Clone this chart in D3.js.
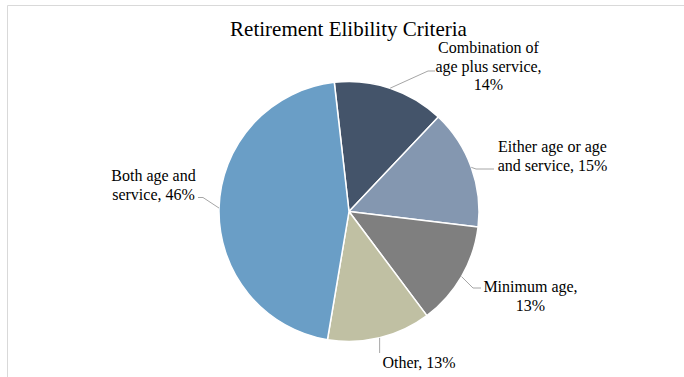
<!DOCTYPE html>
<html>
<head>
<meta charset="utf-8">
<script src="https://cdn.jsdelivr.net/npm/d3@7"></script>
<style>
  html, body { margin: 0; padding: 0; background: #fff; }
  svg { display: block; }
</style>
</head>
<body>
<svg id="chart" width="684" height="377"></svg>
<script>
// Retirement eligibility criteria, share of plans (%)
const categories = [
  "Combination of age plus service",
  "Either age or age and service",
  "Minimum age",
  "Other",
  "Both age and service"
];
const shares = [14, 15, 13, 13, 46];
const sliceColors = ["#44546a", "#8497b0", "#7f7f7f", "#c0c0a3", "#6a9ec6"];
// Label text, broken into lines as they are set beside the pie
const labelLines = [
  ["Combination of", "age plus service,", "14%"],
  ["Either age or age", "and service, 15%"],
  ["Minimum age,", "13%"],
  ["Other, 13%"],
  ["Both age and", "service, 46%"]
];
const titleText = "Retirement Elibility Criteria";

const W = 684, H = 377;
const cx = 349, cy = 211.5, R = 130;
const deg = Math.PI / 180;

const svg = d3.select("#chart");

// chart area frame (top and left edges visible)
svg.append("path")
  .attr("d", `M7.5,${H} V5.5 H${W}`)
  .attr("fill", "none")
  .attr("stroke", "#d9d9d9")
  .attr("stroke-width", 1);

svg.append("text")
  .attr("x", 348.5)
  .attr("y", 36)
  .attr("text-anchor", "middle")
  .attr("font-family", "'Liberation Serif', 'Times New Roman', serif")
  .attr("font-size", 21)
  .attr("fill", "#000")
  .text(titleText);

const pie = d3.pie()
  .value(d => d)
  .sort(null)
  .startAngle(-6.5 * deg)
  .endAngle(353.5 * deg);

const arcs = pie(shares);
const arc = d3.arc().innerRadius(0).outerRadius(R);

const g = svg.append("g").attr("transform", `translate(${cx},${cy})`);
g.selectAll("path.slice")
  .data(arcs)
  .join("path")
  .attr("class", "slice")
  .attr("d", arc)
  .attr("fill", (d, i) => sliceColors[i])
  .attr("stroke", "#fff")
  .attr("stroke-width", 1.5)
  .attr("stroke-linejoin", "round");

// label placement: text centre x, first baseline, line spacing, and leader elbow points
const labelLayout = [
  { x: 488.5, y: 53, lh: 18.5, anchor: "middle", leader: [[428, 71], [435, 71]] },
  { x: 552.5, y: 152, lh: 19, anchor: "middle", leader: [[476, 169], [494, 169]] },
  { x: 530.5, y: 292, lh: 18.5, anchor: "middle", leader: [[473, 288], [481, 288]] },
  { x: 419, y: 368, lh: 18.5, anchor: "middle", leader: "vertical", endY: 353 },
  { x: 153.5, y: 181, lh: 18.5, anchor: "middle", leader: [[203, 197.5], [198, 197.5]] }
];

const edgePoint = d => {
  const a = (d.startAngle + d.endAngle) / 2;
  return [cx + R * Math.sin(a), cy - R * Math.cos(a)];
};

const line = d3.line();
arcs.forEach((d, i) => {
  const L = labelLayout[i];
  const p0 = edgePoint(d);
  const pts = L.leader === "vertical" ? [p0, [p0[0], L.endY]] : [p0, ...L.leader];
  svg.append("path")
    .attr("d", line(pts))
    .attr("fill", "none")
    .attr("stroke", "#a6a6a6")
    .attr("stroke-width", 1);

  const t = svg.append("text")
    .attr("text-anchor", L.anchor)
    .attr("font-family", "'Liberation Serif', 'Times New Roman', serif")
    .attr("font-size", 16)
    .attr("fill", "#000");
  labelLines[i].forEach((s, k) => {
    t.append("tspan").attr("x", L.x).attr("y", L.y + k * L.lh).text(s);
  });
});
</script>
</body>
</html>
